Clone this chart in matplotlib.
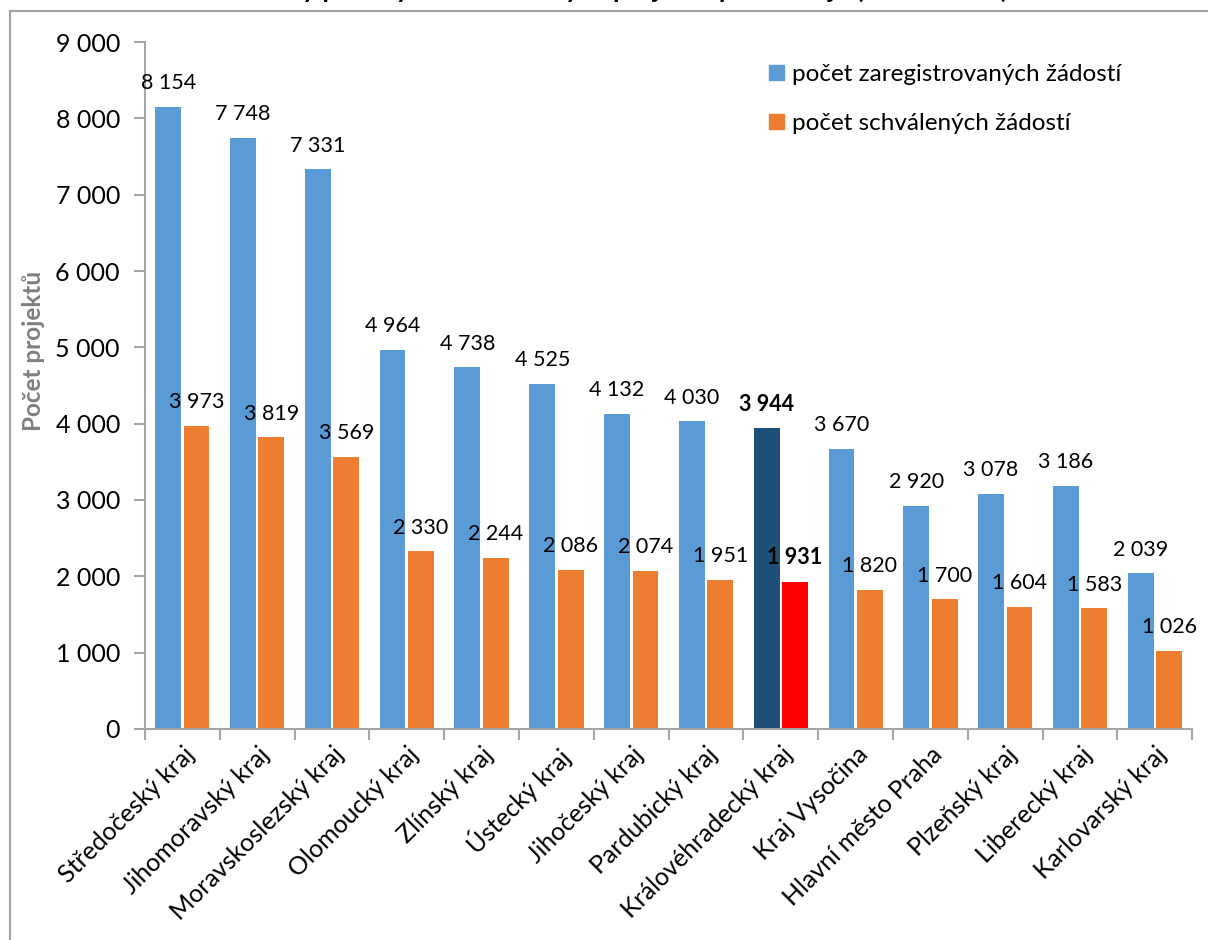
import matplotlib
matplotlib.use('Agg')
import matplotlib.pyplot as plt
import numpy as np
from matplotlib.lines import Line2D
from matplotlib.patches import Patch

plt.rcParams['font.family'] = ['Lato', 'DejaVu Sans']

kraje = ['Středočeský kraj', 'Jihomoravský kraj', 'Moravskoslezský kraj',
         'Olomoucký kraj', 'Zlínský kraj', 'Ústecký kraj', 'Jihočeský kraj',
         'Pardubický kraj', 'Královéhradecký kraj', 'Kraj Vysočina',
         'Hlavní město Praha', 'Plzeňský kraj', 'Liberecký kraj',
         'Karlovarský kraj']
zaregistrovane = [8154, 7748, 7331, 4964, 4738, 4525, 4132, 4030, 3944, 3670,
                  2920, 3078, 3186, 2039]
schvalene = [3973, 3819, 3569, 2330, 2244, 2086, 2074, 1951, 1931, 1820,
             1700, 1604, 1583, 1026]
zvyrazneny = 'Královéhradecký kraj'

modra, oranzova = '#5B9BD5', '#ED7D31'
tmave_modra, cervena = '#1F4E79', '#FF0000'
seda = '#A6A6A6'


def fmt(v):
    return f'{v:,}'.replace(',', ' ')


fig = plt.figure(figsize=(12.08, 9.4), dpi=100)
ax = fig.add_axes([0.120, 0.2245, 0.867, 0.7308])

x = np.arange(len(kraje))
w = 0.345
off = 0.19
barvy_z = [tmave_modra if k == zvyrazneny else modra for k in kraje]
barvy_s = [cervena if k == zvyrazneny else oranzova for k in kraje]
ax.bar(x - off, zaregistrovane, w, color=barvy_z)
ax.bar(x + off, schvalene, w, color=barvy_s)

for i, k in enumerate(kraje):
    tucne = 'bold' if k == zvyrazneny else 'normal'
    ax.annotate(fmt(zaregistrovane[i]), (x[i] - off, zaregistrovane[i]),
                xytext=(0, 17), textcoords='offset points', ha='center',
                va='center', fontsize=15.5, fontweight=tucne)
    ax.annotate(fmt(schvalene[i]), (x[i] + off, schvalene[i]),
                xytext=(0, 17), textcoords='offset points', ha='center',
                va='center', fontsize=15.5, fontweight=tucne)

ax.set_xlim(-0.5, len(kraje) - 0.5)
ax.set_ylim(0, 9000)
ax.set_yticks(np.arange(0, 9001, 1000))
ax.set_yticklabels([fmt(v) for v in range(0, 9001, 1000)])
ax.set_xticks(np.arange(-0.5, len(kraje), 1.0), minor=False)
ax.set_xticklabels([])
ax.set_xticks(x, minor=True)
ax.set_xticklabels(kraje, minor=True, rotation=45, ha='right',
                   rotation_mode='anchor', fontsize=18)
ax.tick_params(axis='x', which='minor', length=0, pad=10)
ax.tick_params(axis='x', which='major', length=8, color=seda, width=1.5)
ax.tick_params(axis='y', length=8, color=seda, width=1.5, labelsize=18, pad=10)

for s in ['top', 'right']:
    ax.spines[s].set_visible(False)
for s in ['left', 'bottom']:
    ax.spines[s].set_color(seda)
    ax.spines[s].set_linewidth(1.5)

ax.set_ylabel('Počet projektů', fontsize=17.5, fontweight='bold', color='#7F7F7F')
ax.yaxis.set_label_coords(-0.095, 0.55)

handles = [Patch(color=modra), Patch(color=oranzova)]
ax.legend(handles, ['počet zaregistrovaných žádostí', 'počet schválených žádostí'],
          loc='upper left', bbox_to_anchor=(0.575, 1.0), frameon=False,
          fontsize=17.5, handlelength=0.6, handleheight=0.6, handletextpad=0.35,
          labelspacing=1.15)

# rámeček grafu (vidět je jen levá a horní hrana)
fig.add_artist(Line2D([9.5 / 1208, 9.5 / 1208], [0, 1 - 11 / 940],
                      transform=fig.transFigure, color='#A0A0A0', lw=1.5))
fig.add_artist(Line2D([9.5 / 1208, 1], [1 - 11 / 940, 1 - 11 / 940],
                      transform=fig.transFigure, color='#A0A0A0', lw=1.5))

# nadpis je v originále oříznutý horním okrajem
fig.text(0.52, 1 + 2 / 940, 'Počty podaných a schválených projektů podle krajů (2007–2013)',
         ha='center', va='baseline', fontsize=19, fontweight='bold')

fig.savefig('out.png', dpi=100)
